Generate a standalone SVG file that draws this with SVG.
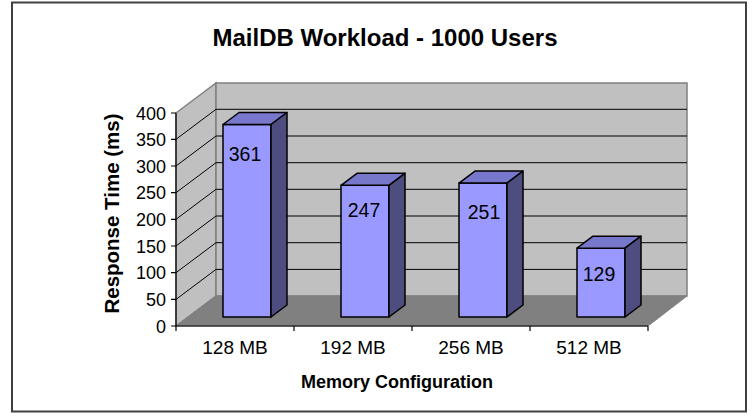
<svg xmlns="http://www.w3.org/2000/svg" width="756" height="420" viewBox="0 0 756 420">
<style>
text{font-family:"Liberation Sans",Arial,sans-serif;fill:#000}
.t{font-size:24px;font-weight:bold;text-anchor:middle}
.ax{font-size:18px;font-weight:bold;text-anchor:middle}
.ayl{font-size:20.5px;font-weight:bold;text-anchor:middle}
.yl{font-size:18px;text-anchor:end}
.cl{font-size:19px;text-anchor:middle}
.vl{font-size:19.5px;text-anchor:middle}
.wall{fill:#C0C0C0;stroke:#808080;stroke-width:1.5}
.grid{stroke:#000;stroke-width:1;fill:none}
.front{fill:#9999FF;stroke:#000;stroke-width:1.5;stroke-linejoin:round}
.top{fill:#7777CC;stroke:#000;stroke-width:1.5;stroke-linejoin:round}
.side{fill:#4D4D80;stroke:#000;stroke-width:1.5;stroke-linejoin:round}
</style>
<rect x="12" y="2.5" width="734" height="409" fill="#fff" stroke="#404040" stroke-width="2"/>
<text class="t" x="385" y="46">MailDB Workload - 1000 Users</text>

<g id="plot-area">
<polygon class="wall" points="176,113 216,83 216,296 176,326"/>
<rect class="wall" x="216" y="83" width="471" height="213"/>
<polygon points="176,326 216,296 687,296 648,326" fill="#808080" stroke="#808080" stroke-width="1"/>
</g>

<g id="gridlines" class="grid">
<path d="M176,299.4 L216,269.4 H687 M176,272.7 L216,242.7 H687 M176,246 L216,216 H687 M176,219.3 L216,189.3 H687 M176,192.7 L216,162.7 H687 M176,166 L216,136 H687 M176,139.3 L216,109.3 H687"/>
</g>

<g id="axes" stroke="#000" stroke-width="1.2" fill="none">
<path d="M176,113 V326 M171,113 H176 M171,139.3 H176 M171,166 H176 M171,192.7 H176 M171,219.3 H176 M171,246 H176 M171,272.7 H176 M171,299.4 H176 M171,326 H176"/>
<path d="M176,326 H648 M176,326 V331 M294,326 V331 M412,326 V331 M530,326 V331 M648,326 V331"/>
</g>

<g id="y-labels">
<text class="yl" x="166" y="119.5">400</text>
<text class="yl" x="166" y="146">350</text>
<text class="yl" x="166" y="172.5">300</text>
<text class="yl" x="166" y="199">250</text>
<text class="yl" x="166" y="226">200</text>
<text class="yl" x="166" y="252.5">150</text>
<text class="yl" x="166" y="279">100</text>
<text class="yl" x="166" y="306">50</text>
<text class="yl" x="166" y="332.5">0</text>
</g>

<g id="bar-128">
<rect class="front" x="223" y="124.5" width="48" height="192.5"/>
<polygon class="top" points="223,124.5 239,112.5 287,112.5 271,124.5"/>
<polygon class="side" points="271,124.5 287,112.5 287,305 271,317"/>
<text class="vl" x="245" y="161">361</text>
</g>
<g id="bar-192">
<rect class="front" x="341" y="185.3" width="48" height="131.7"/>
<polygon class="top" points="341,185.3 357,173.3 405,173.3 389,185.3"/>
<polygon class="side" points="389,185.3 405,173.3 405,305 389,317"/>
<text class="vl" x="364" y="217">247</text>
</g>
<g id="bar-256">
<rect class="front" x="459" y="183.1" width="48" height="133.9"/>
<polygon class="top" points="459,183.1 475,171.1 523,171.1 507,183.1"/>
<polygon class="side" points="507,183.1 523,171.1 523,305 507,317"/>
<text class="vl" x="484" y="219">251</text>
</g>
<g id="bar-512">
<rect class="front" x="577" y="248.2" width="48" height="68.8"/>
<polygon class="top" points="577,248.2 593,236.2 641,236.2 625,248.2"/>
<polygon class="side" points="625,248.2 641,236.2 641,305 625,317"/>
<text class="vl" x="599" y="281">129</text>
</g>

<g id="x-labels">
<text class="cl" x="235" y="354">128 MB</text>
<text class="cl" x="353" y="354">192 MB</text>
<text class="cl" x="471" y="354">256 MB</text>
<text class="cl" x="589" y="354">512 MB</text>
</g>

<text class="ax" x="397" y="388">Memory Configuration</text>
<text class="ayl" transform="translate(119,213.5) rotate(-90)" x="0" y="0">Response Time (ms)</text>
</svg>
